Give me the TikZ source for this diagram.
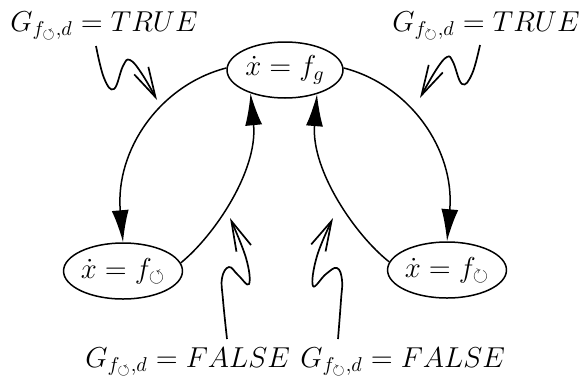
\documentclass[tikz,border=0pt]{standalone}
\usepackage{amssymb}
\usetikzlibrary{shapes.geometric,arrows.meta}
\begin{document}
\begin{tikzpicture}[x=0.5pt,y=-0.5pt,
  every node/.style={font=\fontsize{14}{17}\selectfont},
  state/.style={draw,ellipse,line width=0.75pt,minimum width=58pt,minimum height=28pt,inner sep=0pt},
  lbl/.style={anchor=base west,inner sep=0pt},
  trans/.style={line width=0.75pt,-{Latex[length=16pt,width=8.5pt]}},
  event/.style={line width=0.85pt,-{Straight Barb[length=15pt,width=8pt]}}]
\useasboundingbox (0,0) rectangle (581,380);
\node[state] (top) at (285,70) {$\dot x = f_g$};
\node[state] (left) at (123,271) {$\dot x = f_{\circlearrowleft}$};
\node[state] (right) at (447,270) {$\dot x = f_{\circlearrowright}$};
\node[lbl] (l1) at (10,31) {$G_{f_{\circlearrowleft},d} = TRUE$};
\node[lbl] (l2) at (392,31) {$G_{f_{\circlearrowright},d} = TRUE$};
\node[lbl] (l3) at (85,367) {$G_{f_{\circlearrowleft},d} = FALSE$};
\node[lbl] (l4) at (300,367) {$G_{f_{\circlearrowright},d} = FALSE$};
% transitions
\draw[trans] (top.178) .. controls (160,85) and (115,150) .. (left.north);
\draw[trans] (left.8) .. controls (215,235) and (258,170) .. (top.214);
\draw[trans] (top.2) .. controls (410,85) and (455,150) .. (right.north);
\draw[trans] (right.172) .. controls (355,235) and (311,170) .. (top.323);
% events
\coordinate (s1) at (96,46);  \coordinate (t1) at (157,100);
\coordinate (s2) at (480,45); \coordinate (t2) at (420,98);
\coordinate (s3) at (227,339); \coordinate (t3) at (230,218);
\coordinate (s4) at (338,339); \coordinate (t4) at (333,218);
\draw[event] plot[smooth,tension=0.7] coordinates {(s1) (104,78) (114,89) (123,66) (130,60) (142,74) (t1)};
\draw[event] plot[smooth,tension=0.7] coordinates {(s2) (472,74) (462,84) (453,62) (447,57) (436,70) (t2)};
\draw[event] plot[smooth,tension=0.7] coordinates {(s3) (223,300) (222,278) (229,267) (238,275) (249,284) (246,258) (t3)};
\draw[event] plot[smooth,tension=0.7] coordinates {(s4) (341,300) (342,280) (337,268) (326,274) (313,286) (317,256) (t4)};
\end{tikzpicture}
\end{document}
